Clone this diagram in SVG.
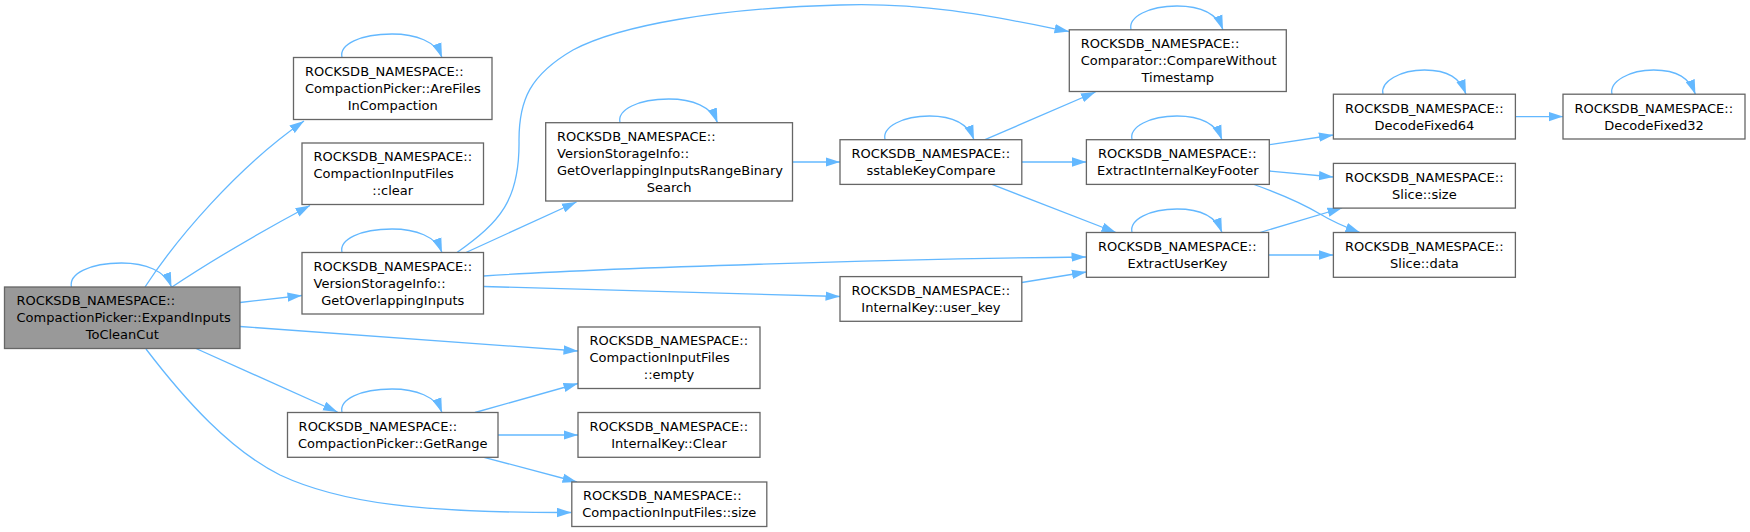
<svg xmlns="http://www.w3.org/2000/svg" width="1750" height="532" viewBox="0 0 1750 532">
<style>
.node rect{fill:#ffffff;stroke:#666666;stroke-width:1.3}
.node.main rect{fill:#999999}
text{font-family:'DejaVu Sans','Liberation Sans',sans-serif;font-size:13px;fill:#000000}
.m{text-anchor:middle}
.edges path{fill:none;stroke:#63b8ff;stroke-width:1.3;marker-end:url(#arr)}
</style>
<defs>
<marker id="arr" markerUnits="userSpaceOnUse" markerWidth="15" markerHeight="10" viewBox="0 0 15 10" refX="14.5" refY="5" orient="auto">
<path d="M0,0.3 L14.5,5 L0,9.7 z" fill="#63b8ff" stroke="none"/>
</marker>
</defs>
<rect width="1750" height="532" fill="#ffffff"/>
<g class="edges">
<path d="M71.5,287 C68.5,274 89.5,263 121.5,263 C145.5,263 165.5,271 171.5,287"/>
<path d="M145,287 C175,241 236,168 304,121"/>
<path d="M172,287 C205,265 255,235 310,205.5"/>
<path d="M240,302.5 L302,295.5"/>
<path d="M240,326.5 L578,351"/>
<path d="M196,348.5 L337.5,412"/>
<path d="M146,349 C185,400 230,450 280,475 C340,503 420,513 571.5,512.5"/>
<path d="M342,57.5 C339,44.5 360,34 392,34 C416,34 436,41.5 442,57.5"/>
<path d="M342,252.5 C339,239.5 360,229 392,229 C416,229 436,236.5 442,252.5"/>
<path d="M457,252.5 C500,222 520,200 519,140 C519,100 530,75 573,50 C620,25 720,8 840,5 C930,2 1000,18 1069,31.5"/>
<path d="M466,252.5 L576.5,202"/>
<path d="M483.6,276 C600,268 900,259 1086,257"/>
<path d="M483.6,286.5 L840,296.5"/>
<path d="M342,412.5 C339,399.5 360,389 392,389 C416,389 436,396.5 442,412.5"/>
<path d="M475,412.5 L578,383.5"/>
<path d="M498,435 L578,435"/>
<path d="M484,457.3 L577,482"/>
<path d="M620,122.7 C617,109.7 638,99 668.75,99 C692.75,99 711.5,106.7 717.5,122.7"/>
<path d="M792.5,162 L840,162"/>
<path d="M885,139.7 C882,126.7 903,116 929.5,116 C953.5,116 968,123.7 974,139.7"/>
<path d="M985,139.7 L1095.5,92"/>
<path d="M1021.8,162 L1086.4,162"/>
<path d="M992,184.4 L1116,232.5"/>
<path d="M1021.8,282.5 L1086.4,272"/>
<path d="M1131,29.8 C1128,16.8 1149,6 1177,6 C1201,6 1217,13.8 1223,29.8"/>
<path d="M1132,139.7 C1129,126.7 1150,116 1177,116 C1201,116 1216,123.7 1222,139.7"/>
<path d="M1269.3,144.7 L1333.4,135"/>
<path d="M1269.3,171 L1333.4,177"/>
<path d="M1254,184.5 C1275,192 1300,202 1320,214 C1330,220 1345,227 1360,232.5"/>
<path d="M1132,232.5 C1129,219.5 1150,209 1177,209 C1201,209 1216,216.5 1222,232.5"/>
<path d="M1260,232.5 L1342,208"/>
<path d="M1268.6,255 L1333.4,255"/>
<path d="M1383,94.2 C1380,81.2 1401,70 1424.5,70 C1448.5,70 1460,78.2 1466,94.2"/>
<path d="M1515.4,116.6 L1563,116.6"/>
<path d="M1612,94.2 C1609,81.2 1630,70 1653.7,70 C1677.7,70 1689.4,78.2 1695.4,94.2"/>
</g>
<g id="n1" class="node main">
<rect x="4.5" y="287" width="235.5" height="61.5"/>
<text x="16.5" y="305">ROCKSDB_NAMESPACE::</text>
<text x="16.5" y="322">CompactionPicker::ExpandInputs</text>
<text class="m" x="122.25" y="339">ToCleanCut</text>
</g>
<g id="n2" class="node">
<rect x="293.5" y="57.5" width="198.5" height="62"/>
<text x="305" y="75.8">ROCKSDB_NAMESPACE::</text>
<text x="305" y="92.8">CompactionPicker::AreFiles</text>
<text class="m" x="392.75" y="109.8">InCompaction</text>
</g>
<g id="n3" class="node">
<rect x="302" y="143" width="181.5" height="61.5"/>
<text x="313.5" y="161">ROCKSDB_NAMESPACE::</text>
<text x="313.5" y="178">CompactionInputFiles</text>
<text class="m" x="392.75" y="195">::clear</text>
</g>
<g id="n4" class="node">
<rect x="302" y="252.5" width="181.5" height="61.5"/>
<text x="313.5" y="270.5">ROCKSDB_NAMESPACE::</text>
<text x="313.5" y="287.5">VersionStorageInfo::</text>
<text class="m" x="392.75" y="304.5">GetOverlappingInputs</text>
</g>
<g id="n5" class="node">
<rect x="287.5" y="412.5" width="210.5" height="44.8"/>
<text x="298.6" y="431">ROCKSDB_NAMESPACE::</text>
<text class="m" x="392.75" y="448">CompactionPicker::GetRange</text>
</g>
<g id="n6" class="node">
<rect x="545.7" y="122.7" width="246.8" height="78.3"/>
<text x="557" y="140.8">ROCKSDB_NAMESPACE::</text>
<text x="557" y="157.8">VersionStorageInfo::</text>
<text x="557" y="174.8">GetOverlappingInputsRangeBinary</text>
<text class="m" x="669.1" y="191.8">Search</text>
</g>
<g id="n7" class="node">
<rect x="840" y="139.7" width="181.8" height="44.7"/>
<text x="851.5" y="158">ROCKSDB_NAMESPACE::</text>
<text class="m" x="930.9" y="175">sstableKeyCompare</text>
</g>
<g id="n8" class="node">
<rect x="840" y="276.6" width="181.8" height="44.7"/>
<text x="851.5" y="295">ROCKSDB_NAMESPACE::</text>
<text class="m" x="930.9" y="312">InternalKey::user_key</text>
</g>
<g id="n9" class="node">
<rect x="578" y="327" width="182" height="61.5"/>
<text x="589.5" y="345">ROCKSDB_NAMESPACE::</text>
<text x="589.5" y="362">CompactionInputFiles</text>
<text class="m" x="669" y="379">::empty</text>
</g>
<g id="n10" class="node">
<rect x="578" y="412.5" width="182" height="44.8"/>
<text x="589.5" y="431">ROCKSDB_NAMESPACE::</text>
<text class="m" x="669" y="448">InternalKey::Clear</text>
</g>
<g id="n11" class="node">
<rect x="571.8" y="482" width="195" height="44.5"/>
<text x="583" y="500.3">ROCKSDB_NAMESPACE::</text>
<text class="m" x="669.3" y="517.3">CompactionInputFiles::size</text>
</g>
<g id="n12" class="node">
<rect x="1069.3" y="29.8" width="217" height="61.7"/>
<text x="1080.7" y="48">ROCKSDB_NAMESPACE::</text>
<text x="1080.7" y="65">Comparator::CompareWithout</text>
<text class="m" x="1177.8" y="82">Timestamp</text>
</g>
<g id="n13" class="node">
<rect x="1086.4" y="139.7" width="182.9" height="44.7"/>
<text x="1098" y="158">ROCKSDB_NAMESPACE::</text>
<text class="m" x="1177.85" y="175">ExtractInternalKeyFooter</text>
</g>
<g id="n14" class="node">
<rect x="1086.4" y="232.5" width="182.2" height="44.8"/>
<text x="1098" y="251">ROCKSDB_NAMESPACE::</text>
<text class="m" x="1177.5" y="268">ExtractUserKey</text>
</g>
<g id="n15" class="node">
<rect x="1333.4" y="94.2" width="182" height="44.8"/>
<text x="1345" y="112.6">ROCKSDB_NAMESPACE::</text>
<text class="m" x="1424.4" y="129.6">DecodeFixed64</text>
</g>
<g id="n16" class="node">
<rect x="1563" y="94.2" width="182" height="44.8"/>
<text x="1574.5" y="112.6">ROCKSDB_NAMESPACE::</text>
<text class="m" x="1654" y="129.6">DecodeFixed32</text>
</g>
<g id="n17" class="node">
<rect x="1333.4" y="163.4" width="182" height="44.7"/>
<text x="1345" y="181.8">ROCKSDB_NAMESPACE::</text>
<text class="m" x="1424.4" y="198.8">Slice::size</text>
</g>
<g id="n18" class="node">
<rect x="1333.4" y="232.5" width="182" height="44.8"/>
<text x="1345" y="251">ROCKSDB_NAMESPACE::</text>
<text class="m" x="1424.4" y="268">Slice::data</text>
</g>
</svg>
